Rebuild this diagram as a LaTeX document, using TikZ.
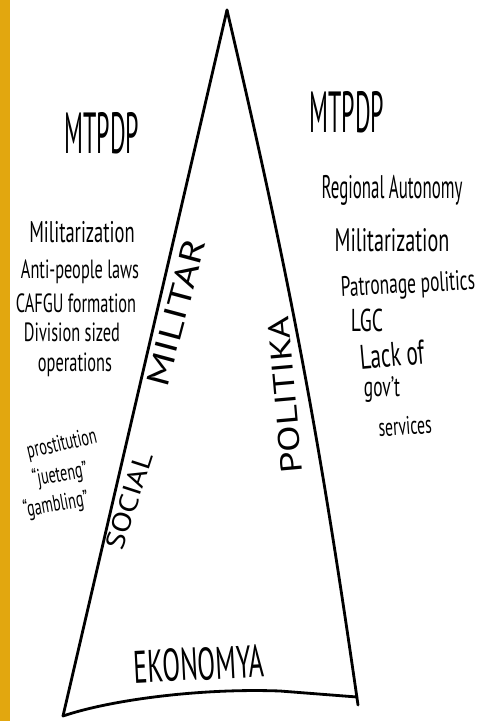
\documentclass[tikz,border=0pt]{standalone}
\usepackage{fontspec}
\setmainfont{PT Sans}
\usetikzlibrary{positioning}

\definecolor{bargold}{HTML}{E2A70F}

\tikzset{
  hand/.style={font=\fontsize{#1}{#1}\selectfont, xscale=0.62, transform shape, inner sep=0pt},
  side/.style={font=\fontsize{#1}{#1}\selectfont, transform shape, inner sep=0pt},
  edge/.style={line width=1.6pt, line join=round, line cap=round}
}

\begin{document}
\begin{tikzpicture}[x=0.02cm, y=-0.02cm]
  \useasboundingbox (0,0) rectangle (481,721);
  \fill[bargold] (0,0) rectangle (10,721); % Left bar

  % Corners of the triangle
  \coordinate (apex) at (227,10);
  \coordinate (bl) at (63,716);
  \coordinate (br) at (358,705);
  \coordinate (bre) at (357,697);

  \draw[edge] (apex) -- (bl);                  % Left side
  \draw[edge] (apex) to[bend left=2.5] (br);   % Right side
  \draw[edge] (bl) .. controls (110,700) and (200,688) .. (280,691) -- (bre); % Bottom

  % Left column
  \node[hand=22, yscale=1.5] (mtpdpL) at (102,133) {MTPDP};
  \node[hand=17] (milL) at (82,232) {Militarization};
  \node[hand=15] (antiL) at (80,272) {Anti-people laws};
  \node[hand=15] (cafgu) at (76,303) {CAFGU formation};
  \node[hand=15] (divL) at (72,332) {Division sized};
  \node[hand=15] (opsL) at (75,365) {operations};

  \node[rotate=13, hand=13] (prost) at (62,445) {prostitution};
  \node[rotate=10, hand=13] (jueteng) at (60,475) {``jueteng''};
  \node[rotate=10, hand=13] (gambling) at (56,505) {``gambling''};

  % Right column
  \node[hand=22, yscale=1.5] (mtpdpR) at (347,112) {MTPDP};
  \node[hand=15.5, yscale=1.2] (regaut) at (392,190) {Regional Autonomy};
  \node[hand=18.5] (milR) at (392,240) {Militarization};
  \node[rotate=3, hand=16] (patron) at (408,286) {Patronage politics};
  \node[hand=18] (lgc) at (367,320) {LGC};
  \node[rotate=5, hand=19.5] (lack) at (392,355) {Lack of};
  \node[hand=16] (govt) at (382,390) {gov't};
  \node[rotate=4, hand=14.5] (serv) at (405,426) {services};

  % Sides
  \node[side=18, rotate=75, xscale=1.35] (militar) at (176,312) {MILITAR};
  \node[side=15, rotate=72, xscale=1.2] (social) at (129,501) {SOCIAL};
  \node[side=17, rotate=95, xscale=1.3] (politika) at (285,395) {POLITIKA};
  \node[rotate=3, hand=20, xscale=1.2, yscale=1.3] (ekon) at (199,664) {EKONOMYA};
\end{tikzpicture}
\end{document}
